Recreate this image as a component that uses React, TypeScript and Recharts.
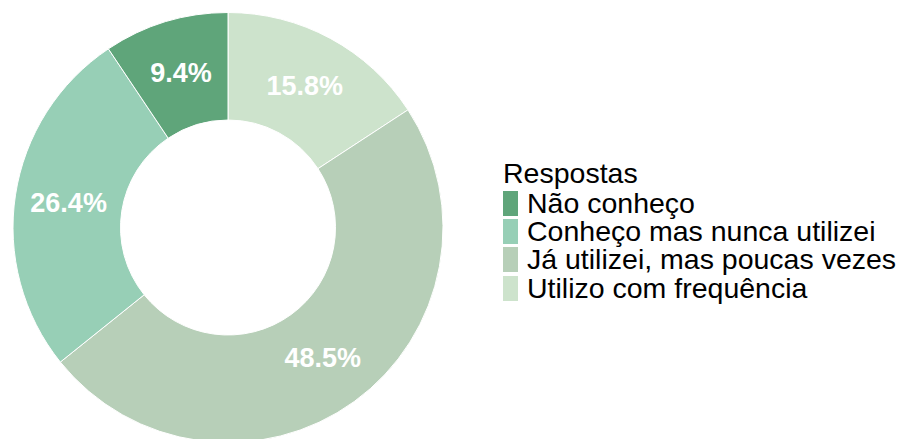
import { Legend, Pie, PieChart, Cell } from 'recharts';

// clockwise from 12 o'clock
const categories = [
  'Utilizo com frequência',
  'Já utilizei, mas poucas vezes',
  'Conheço mas nunca utilizei',
  'Não conheço',
];
const shares = [15.8, 48.5, 26.4, 9.4];
const colors = ['#cde3cc', '#b7cfb8', '#97cfb6', '#5fa57a'];
const legendOrder = [3, 2, 1, 0];

const FONT = 'Arial, "Liberation Sans", sans-serif';
const RAD = Math.PI / 180;

const data = categories.map((name, i) => ({ name, value: shares[i] }));

function SliceLabel(props: any) {
  const { cx, cy, midAngle, innerRadius, outerRadius, value } = props;
  const r = (innerRadius + outerRadius) / 2;
  const x = cx + r * Math.cos(-midAngle * RAD);
  const y = cy + r * Math.sin(-midAngle * RAD);
  return (
    <text
      x={x}
      y={y}
      fill="#ffffff"
      textAnchor="middle"
      dominantBaseline="central"
      fontFamily={FONT}
      fontWeight="bold"
      fontSize={27}
    >
      {`${value.toFixed(1)}%`}
    </text>
  );
}

function LegendBox() {
  return (
    <div style={{ fontFamily: FONT, fontSize: 28.5, color: '#000' }}>
      <div style={{ lineHeight: '30px', height: 31 }}>Respostas</div>
      {legendOrder.map((i) => (
        <div
          key={categories[i]}
          style={{ display: 'flex', alignItems: 'center', height: 28.3 }}
        >
          <span
            style={{
              display: 'inline-block',
              width: 15,
              height: 25,
              background: colors[i],
              marginRight: 9,
            }}
          />
          <span style={{ display: 'inline-block', height: 27, lineHeight: '27px' }}>
            {categories[i]}
          </span>
        </div>
      ))}
    </div>
  );
}

export default function App() {
  return (
    <div style={{ position: 'fixed', left: 0, top: 0, width: 900, height: 439, background: '#fff' }}>
      <PieChart width={900} height={439} margin={{ top: 0, right: 0, bottom: 0, left: 0 }}>
        <Pie
          data={data}
          dataKey="value"
          nameKey="name"
          cx={228}
          cy={227.5}
          innerRadius={107.5}
          outerRadius={215}
          startAngle={90}
          endAngle={-270}
          stroke="#ffffff"
          strokeWidth={1}
          label={SliceLabel}
          labelLine={false}
          isAnimationActive={false}
        >
          {data.map((d, i) => (
            <Cell key={d.name} fill={colors[i]} />
          ))}
        </Pie>
        <Legend
          content={() => <LegendBox />}
          wrapperStyle={{ position: 'absolute', left: 503, top: 158, width: 395 }}
        />
      </PieChart>
    </div>
  );
}
